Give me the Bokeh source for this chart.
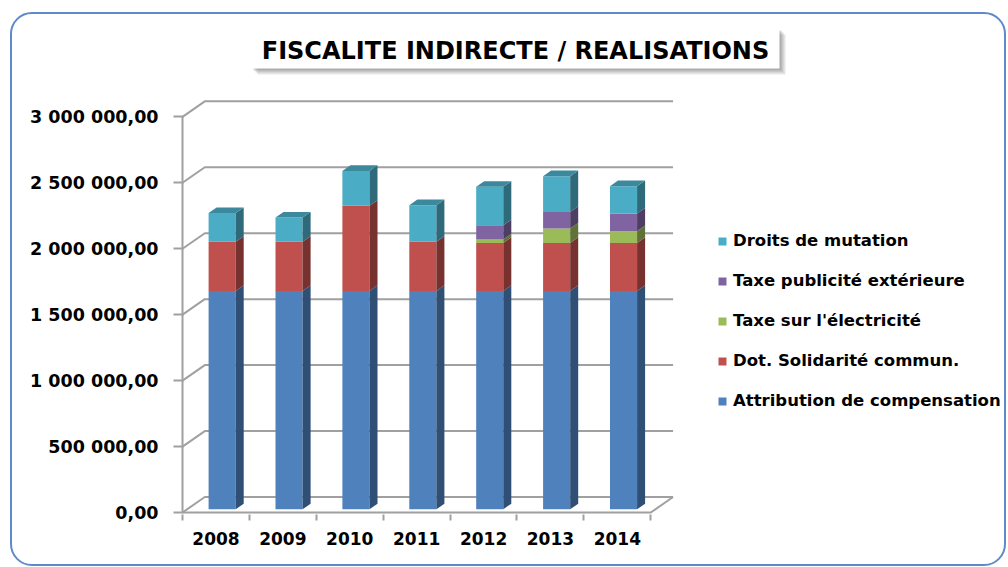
from bokeh.plotting import figure
from bokeh.models import FixedTicker, Legend, LegendItem, Label, BoxAnnotation, InlineStyleSheet
from bokeh.embed import file_html
from bokeh.resources import INLINE

# ---------------- data ----------------
years = ["2008", "2009", "2010", "2011", "2012", "2013", "2014"]
attribution = [1655000, 1655000, 1655000, 1655000, 1655000, 1655000, 1655000]
dot_solidarite = [372000, 372000, 645000, 372000, 364000, 364000, 364000]
taxe_electricite = [0, 0, 0, 0, 26000, 109000, 89000]
taxe_publicite = [0, 0, 0, 0, 108000, 126000, 134000]
droits_mutation = [219000, 185000, 265000, 278000, 291000, 271000, 207000]
series_names = ["Attribution de compensation", "Dot. Solidarité commun.",
                "Taxe sur l'électricité", "Taxe publicité extérieure",
                "Droits de mutation"]
y_ticks = [0, 500000, 1000000, 1500000, 2000000, 2500000, 3000000]
y_tick_labels = ["0,00", "500 000,00", "1 000 000,00", "1 500 000,00",
                 "2 000 000,00", "2 500 000,00", "3 000 000,00"]
title_text = "FISCALITE INDIRECTE / REALISATIONS"

series = [attribution, dot_solidarite, taxe_electricite, taxe_publicite, droits_mutation]
front_colors = ["#4F81BD", "#C0504D", "#9BBB59", "#8064A2", "#4BACC6"]


def shade(hex_color, f):
    h = hex_color.lstrip("#")
    r, g, b = (int(h[i:i + 2], 16) for i in (0, 2, 4))
    return "#%02x%02x%02x" % (int(r * f), int(g * f), int(b * f))


side_colors = [shade(c, 0.62) for c in front_colors]
top_colors = [shade(c, 0.80) for c in front_colors]

# ---------------- 3D projection constants (styling) ----------------
DX, DY = 0.333, 117500.0          # full depth of the chart box
BX0, BW = 0.39, 0.405             # bar front face offset/width within slot
BY = 25000.0                      # bar front face lift (depth position)
BDX, BDY = 0.36 * DX, 0.36 * DY   # bar depth
FONT = "DejaVu Sans"
GRID = "#A0A0A0"
n = len(years)

p = figure(width=1008, height=567, output_backend="svg", toolbar_location=None,
           x_range=(-0.03, 12.347), y_range=(-15000, 3881900),
           min_border_left=180, min_border_right=0, min_border_top=0,
           min_border_bottom=53, outline_line_color=None)
p.xgrid.visible = False
p.ygrid.visible = False

# back wall grid lines + left wall diagonals
gx, gy = [], []
for v in y_ticks:
    gx.append([0, DX, n + DX])
    gy.append([v, v + DY, v + DY])
p.multi_line(gx, gy, line_color=GRID, line_width=2)
# front axis lines
p.line([0, 0], [0, y_ticks[-1]], line_color=GRID, line_width=2)
p.line([0, n, n + DX], [0, 0, DY], line_color=GRID, line_width=2)

# bars
legend_renderers = []
base = [0] * n
for k, vals in enumerate(series):
    bottoms = list(base)
    tops = [b + v for b, v in zip(bottoms, vals)]
    xs_c = [i + BX0 + BW / 2 for i in range(n)]
    r = p.vbar(x=xs_c, width=BW, bottom=[b + BY for b in bottoms],
               top=[t + BY for t in tops], fill_color=front_colors[k], line_color=None)
    legend_renderers.append(r)
    sx, sy = [], []
    for i in range(n):
        if vals[i] <= 0:
            continue
        xr = i + BX0 + BW
        b, t = bottoms[i] + BY, tops[i] + BY
        sx.append([xr, xr + BDX, xr + BDX, xr])
        sy.append([b, b + BDY, t + BDY, t])
    p.patches(sx, sy, fill_color=side_colors[k], line_color=None)
    base = tops

# top faces of the topmost segment
for i in range(n):
    k = max(j for j in range(len(series)) if series[j][i] > 0)
    T = base[i] + BY
    xl, xr = i + BX0, i + BX0 + BW
    p.patch([xl, xr, xr + BDX, xl + BDX], [T, T, T + BDY, T + BDY],
            fill_color=top_colors[k], line_color=None)

# axes
p.yaxis.ticker = FixedTicker(ticks=y_ticks)
p.yaxis.major_label_overrides = {v: s for v, s in zip(y_ticks, y_tick_labels)}
p.yaxis.axis_line_color = None
p.yaxis.major_tick_line_color = GRID
p.yaxis.major_tick_line_width = 2
p.yaxis.major_tick_out = 7
p.yaxis.major_tick_in = 3
p.yaxis.minor_tick_line_color = None
p.yaxis.major_label_standoff = 15
p.yaxis.major_label_text_font = FONT
p.yaxis.major_label_text_font_style = "bold"
p.yaxis.major_label_text_font_size = "17.5px"
p.yaxis.major_label_text_color = "black"

centers = [i + 0.5 for i in range(n)]
p.xaxis.ticker = FixedTicker(ticks=centers, minor_ticks=list(range(n + 1)))
p.xaxis.major_label_overrides = {c: y for c, y in zip(centers, years)}
p.xaxis.axis_line_color = None
p.xaxis.major_tick_line_color = None
p.xaxis.major_tick_out = 0
p.xaxis.major_tick_in = 0
p.xaxis.minor_tick_line_color = GRID
p.xaxis.minor_tick_line_width = 2
p.xaxis.minor_tick_out = 6
p.xaxis.minor_tick_in = 0
p.xaxis.major_label_standoff = 11
p.xaxis.major_label_text_font = FONT
p.xaxis.major_label_text_font_style = "bold"
p.xaxis.major_label_text_font_size = "17px"
p.xaxis.major_label_text_color = "black"

# legend
items = [LegendItem(label=series_names[k], renderers=[legend_renderers[k]])
         for k in reversed(range(len(series)))]
legend = Legend(items=items, location=(537, 104), orientation="vertical",
                glyph_width=10, glyph_height=10, label_height=10,
                label_standoff=6, spacing=21, padding=0, margin=0,
                border_line_color=None, background_fill_alpha=0,
                label_text_font=FONT, label_text_font_style="bold",
                label_text_font_size="16.5px", label_text_color="black")
p.add_layout(legend, "center")

# title box with soft shadow
for off, alpha in ((6, 0.18), (4, 0.25), (2, 0.3)):
    p.add_layout(BoxAnnotation(left=251 + off, right=779 + off, top=28 + off, bottom=68 + off,
                               left_units="canvas", right_units="canvas",
                               top_units="canvas", bottom_units="canvas",
                               fill_color="#707070", fill_alpha=alpha, line_color=None))
p.add_layout(BoxAnnotation(left=251, right=779, top=28, bottom=68,
                           left_units="canvas", right_units="canvas",
                           top_units="canvas", bottom_units="canvas",
                           fill_color="white", fill_alpha=1, line_color=None))
p.add_layout(Label(x=515, y=50, x_units="canvas", y_units="canvas", text=title_text,
                   text_align="center", text_baseline="middle", text_font=FONT,
                   text_font_style="bold", text_font_size="24px", text_color="black"))

# outer rounded frame of the chart area
p.stylesheets = [InlineStyleSheet(css=(
    ":host::after { content: ''; position: absolute; left: 10px; top: 12px; "
    "right: 2px; bottom: 1px; border: 2px solid #5F8AC8; border-radius: 22px; "
    "box-sizing: border-box; pointer-events: none; z-index: 10; }"))]

open("out.html", "w").write(file_html(p, INLINE))
